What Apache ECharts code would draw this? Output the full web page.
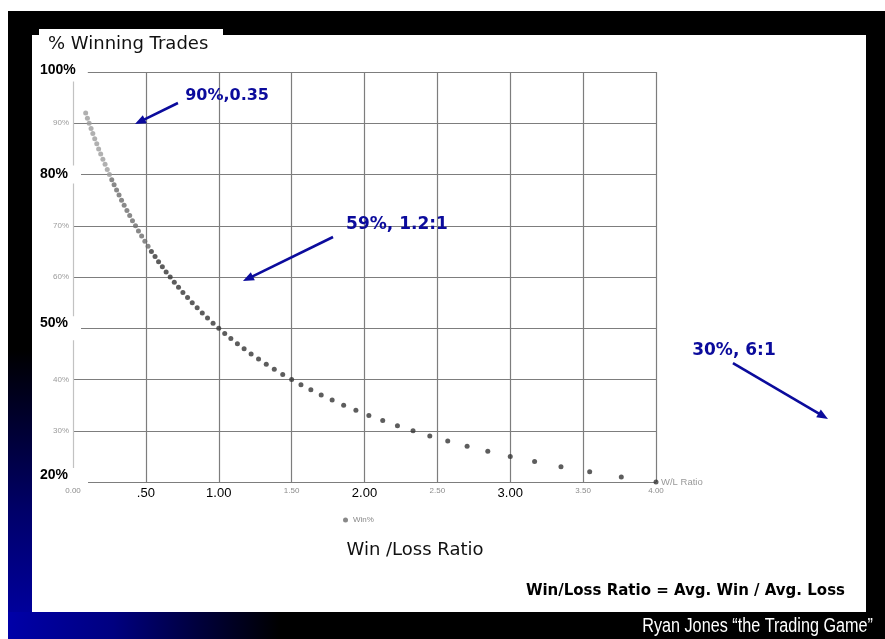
<!DOCTYPE html>
<html><head><meta charset="utf-8">
<script src="https://cdn.jsdelivr.net/npm/echarts@6/dist/echarts.min.js"></script>
<style>html,body{margin:0;padding:0;background:#fff;overflow:hidden}#c{width:885px;height:639px}</style>
</head><body><div id="c"></div>
<script>
// ---- data ----
const winPct = [92,91,90,89,88,87,86,85,84,83,82,81,80,79,78,77,76,75,74,73,72,71,70,69,68,67,66,65,64,63,62,61,60,59,58,57,56,55,54,53,52,51,50,49,48,47,46,45,44,43,42,41,40,39,38,37,36,35,34,33,32,31,30,29,28,27,26,25,24,23,22,21,20];
const wlRatio = [0.087,0.099,0.111,0.124,0.136,0.149,0.163,0.176,0.190,0.205,0.220,0.235,0.250,0.266,0.282,0.299,0.316,0.333,0.351,0.370,0.389,0.408,0.429,0.449,0.471,0.493,0.515,0.538,0.563,0.587,0.613,0.639,0.667,0.695,0.724,0.754,0.786,0.818,0.852,0.887,0.923,0.961,1.000,1.041,1.083,1.128,1.174,1.222,1.273,1.326,1.381,1.439,1.500,1.564,1.632,1.703,1.778,1.857,1.941,2.030,2.125,2.226,2.333,2.448,2.571,2.704,2.846,3.000,3.167,3.348,3.545,3.762,4.000];
const yTicks = ['20%','30%','40%','50%','60%','70%','80%','90%','100%'];
const xTicks = ['0.00','.50','1.00','1.50','2.00','2.50','3.00','3.50','4.00'];
const boldYTicks = ['100%','80%','50%','20%'];
const boldXTicks = ['.50','1.00','2.00','3.00'];
const seriesName = 'Win%';
const annotationTexts = ['90%,0.35','59%, 1.2:1','30%, 6:1'];
// annotation anchors in data space [label, arrowStart, arrowTip]
const annotationAnchors = [
  [[1.057,95.3],[0.72,93.95],[0.425,89.85]],
  [[2.223,70.3],[1.784,67.8],[1.166,59.2]],
  [[4.535,45.6],[4.528,43.2],[5.18,32.3]]
];

const chart = echarts.init(document.getElementById('c'), null, {renderer:'canvas'});
const AR = 'Liberation Sans, Arial, sans-serif';
const CS = 'Comic Sans MS, DejaVu Sans, sans-serif';
const BLUE = '#0b0b9c';

const yRich = {
  b100:{fontSize:14,fontWeight:'bold',color:'#000',fontFamily:AR,backgroundColor:'#fff',padding:[1,12,4,2]},
  b80:{fontSize:14,fontWeight:'bold',color:'#000',fontFamily:AR,backgroundColor:'#fff',padding:[2,13,2,2]},
  b50:{fontSize:14,fontWeight:'bold',color:'#000',fontFamily:AR,backgroundColor:'#fff',padding:[0,13,10,2]},
  b20:{fontSize:14,fontWeight:'bold',color:'#000',fontFamily:AR,backgroundColor:'#fff',padding:[0,20,14,2]},
  g:{fontSize:8,color:'#9a9a9a',fontFamily:AR,padding:[0,0,0,15]}
};
const boldKey = {'100%':'b100','80%':'b80','50%':'b50','20%':'b20'};

const option = {
  animation:false,
  grid:{left:73,right:229,top:72,bottom:157,containLabel:false},
  legend:{data:[seriesName],left:338,top:511,icon:'circle',itemWidth:5,itemHeight:5,
    itemStyle:{color:'#6a6a6a'},
    textStyle:{fontSize:8,color:'#888',fontFamily:AR}},
  xAxis:{type:'value',min:0,max:4,interval:0.5,z:1,
    axisLine:{show:false},axisTick:{show:false},
    splitLine:{show:true,showMinLine:false,lineStyle:{color:'#7d7d7d',width:1.2}},
    axisLabel:{margin:5,showMinLabel:true,showMaxLabel:true,
      formatter:function(v){const t=xTicks[Math.round(v/0.5)];return boldXTicks.indexOf(t)>=0?'{b|'+t+'}':'{g|'+t+'}';},
      rich:{b:{fontSize:13,color:'#000',fontFamily:AR},g:{fontSize:8,color:'#8c8c8c',fontFamily:AR,padding:[0,0,3,0]}}},
    name:'W/L Ratio',nameLocation:'end',nameGap:5,
    nameTextStyle:{fontSize:9.5,color:'#999',fontFamily:AR,align:'left',padding:[0,0,9,0]}},
  yAxis:{type:'value',min:20,max:100,interval:10,
    axisLine:{show:true,lineStyle:{color:'#c2c2c2',width:1.2}},axisTick:{show:false},
    splitLine:{show:true,lineStyle:{color:'#7d7d7d',width:1.2}},
    axisLabel:{align:'left',margin:35,showMinLabel:true,showMaxLabel:true,
      formatter:function(v){const t=yTicks[Math.round((v-20)/10)];return boldKey[t]?'{'+boldKey[t]+'|'+t+'}':'{g|'+t+'}';},
      rich:yRich}},
  series:[{name:seriesName,type:'scatter',z:5,symbolSize:5,
    data:wlRatio.map(function(x,i){return [x,winPct[i]];}),
    itemStyle:{color:function(p){const v=p.value[1];return v>=80?'#9c9c9c':(v>=66?'#6c6c6c':'#353535');}}}]
};
chart.setOption(option);

function P(d){return chart.convertToPixel({gridIndex:0},d);}
const g = [
  {type:'rect',z:-100,silent:true,shape:{x:8,y:11,width:877,height:628},style:{fill:'#000'}},
  {type:'rect',z:-99,silent:true,shape:{x:8,y:11,width:24,height:628},
    style:{fill:{type:'linear',x:0,y:0,x2:0,y2:1,colorStops:[{offset:0,color:'#000'},{offset:0.54,color:'#000'},{offset:0.8,color:'#00006a'},{offset:1,color:'#0000a8'}]}}},
  {type:'rect',z:-99,silent:true,shape:{x:8,y:612,width:877,height:27},
    style:{fill:{type:'linear',x:0,y:0,x2:1,y2:0,colorStops:[{offset:0,color:'#0000a8'},{offset:0.12,color:'#000080'},{offset:0.22,color:'#00003a'},{offset:0.31,color:'#000'},{offset:1,color:'#000'}]}}},
  {type:'rect',z:-98,silent:true,shape:{x:32,y:35,width:834,height:577},style:{fill:'#fff'}},
  {type:'rect',z:10,silent:true,shape:{x:39,y:29,width:184,height:29},style:{fill:'#fff'}},
  {type:'text',z:11,x:48,y:44,style:{text:'% Winning Trades',fontSize:18,fontFamily:CS,fill:'#111',align:'left',verticalAlign:'middle'}},
  {type:'text',z:11,x:415,y:550,style:{text:'Win /Loss Ratio',fontSize:18,fontFamily:CS,fill:'#111',align:'center',verticalAlign:'middle'}},
  {type:'text',z:11,x:845,y:591,style:{text:'Win/Loss Ratio = Avg. Win / Avg. Loss',fontSize:15,fontWeight:'bold',fontFamily:CS,fill:'#000',align:'right',verticalAlign:'middle'}},
  {type:'text',z:11,x:873,y:626,scaleX:0.81,style:{text:'Ryan Jones \u201cthe Trading Game\u201d',fontSize:20,fontFamily:AR,fill:'#fff',align:'right',verticalAlign:'middle'}}
];
const annoSize = [16,17,17];
annotationAnchors.forEach(function(a,i){
  const L=P(a[0]), S=P(a[1]), T=P(a[2]);
  const dx=T[0]-S[0], dy=T[1]-S[1], len=Math.sqrt(dx*dx+dy*dy);
  const ux=dx/len, uy=dy/len, nx=-uy, ny=ux, hl=11, hw=4.5;
  const bx=T[0]-ux*hl, by=T[1]-uy*hl;
  g.push({type:'line',z:12,silent:true,shape:{x1:S[0],y1:S[1],x2:bx+ux*2,y2:by+uy*2},style:{stroke:BLUE,lineWidth:2.6}});
  g.push({type:'polygon',z:12,silent:true,shape:{points:[[T[0],T[1]],[bx+nx*hw,by+ny*hw],[bx-nx*hw,by-ny*hw]]},style:{fill:BLUE}});
  g.push({type:'text',z:12,x:L[0],y:L[1],style:{text:annotationTexts[i],fontSize:annoSize[i],fontWeight:'bold',fontFamily:CS,fill:BLUE,align:'center',verticalAlign:'middle'}});
});
chart.setOption({graphic:g});
</script>
</body></html>
